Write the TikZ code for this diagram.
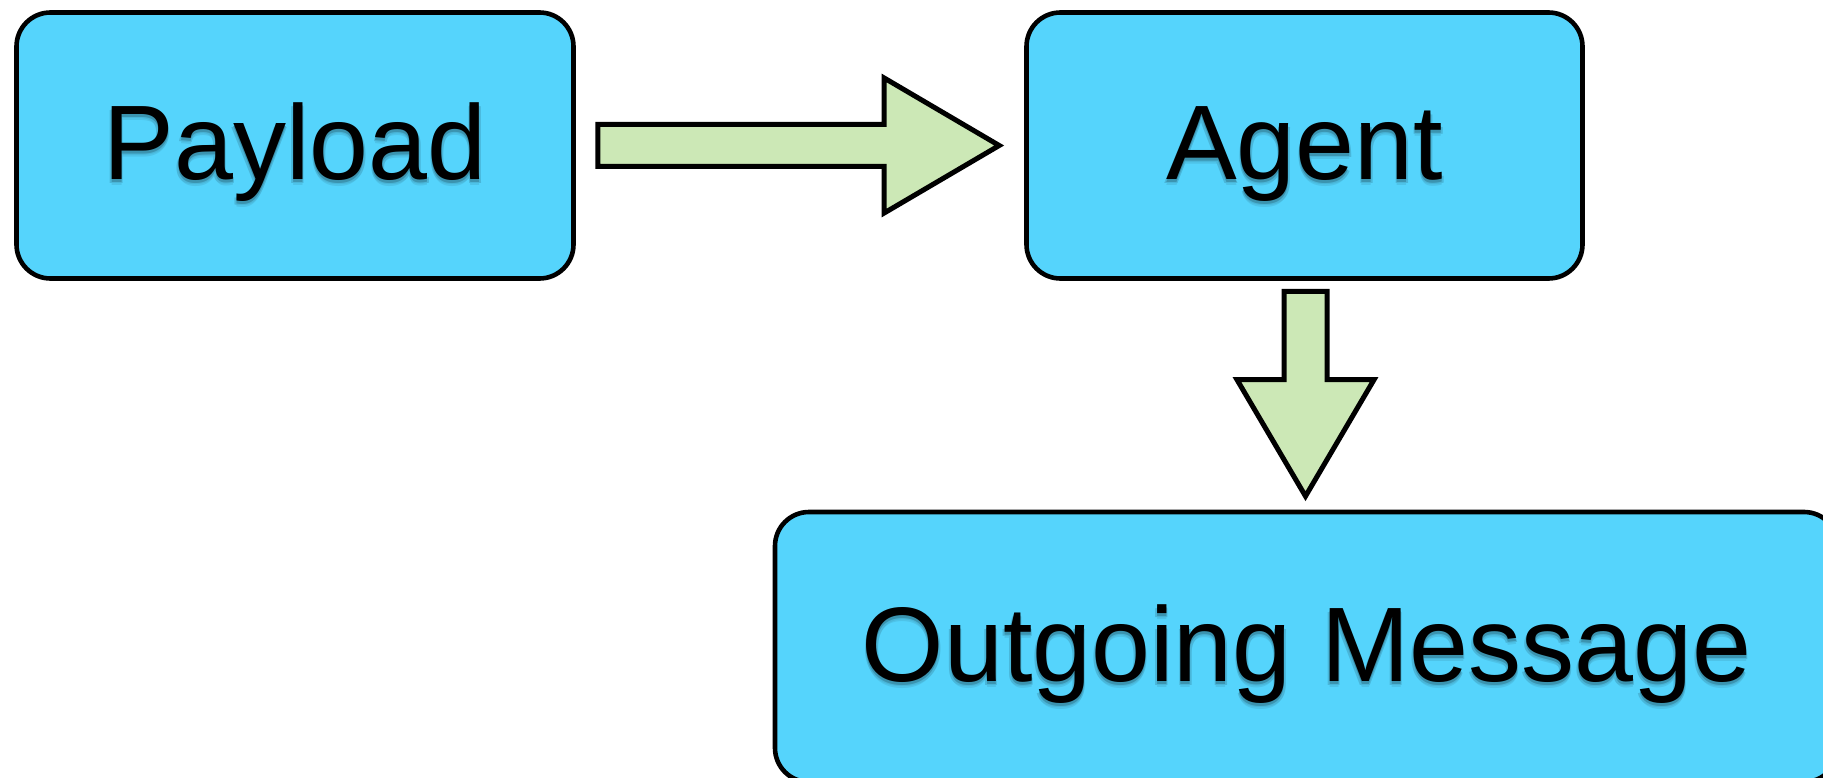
\documentclass[tikz,border=0pt]{standalone}
\usepackage{fontspec}
\setmainfont{Liberation Sans}
\usetikzlibrary{calc}
\definecolor{boxblue}{HTML}{55D4FC}
\definecolor{arrowgreen}{HTML}{CCE8B6}
% one layer of the drop shadow: #1 right shift, #2 drop, #3 tint, #4 text
\newcommand{\shadowlayer}[4]{%
  \rlap{\raisebox{-#2pt}{\hspace{#1pt}\textcolor{black!#3!boxblue}{#4}}}}
% text with a soft drop shadow underneath
\newcommand{\shadowed}[1]{%
  \leavevmode
  \shadowlayer{0}{5.5}{8}{#1}%
  \shadowlayer{-1.5}{4}{14}{#1}%
  \shadowlayer{1.5}{4}{14}{#1}%
  \shadowlayer{0}{2.5}{30}{#1}%
  #1}
\tikzset{
  stagebox/.style={draw=black, line width=4.6pt, fill=boxblue, rounded corners=34pt,
    inner sep=0pt, text height=76pt, text depth=7pt,
    font=\fontsize{106}{120}\selectfont},
  blockarrow/.style={draw=black, line width=5pt, fill=arrowgreen, line join=miter}
}
\begin{document}
\begin{tikzpicture}[x=1pt, y=-1pt]
  \useasboundingbox (0,0) rectangle (1823,778);

  % stages
  \node[stagebox, minimum width=557pt, minimum height=266pt] (payload) at (295,145.5) {\shadowed{Payload}};
  \node[stagebox, minimum width=556pt, minimum height=266pt] (agent) at (1304.5,145.5) {\shadowed{Agent}};
  \node[stagebox, minimum width=1063pt, minimum height=270pt] (outgoing) at (1306.5,647) {\shadowed{Outgoing Message}};

  % block arrow: Payload -> Agent
  \coordinate (r0) at ($(payload.east)+(22,0)$);
  \coordinate (r1) at ($(agent.west)+(-25,0)$);
  \draw[blockarrow] ($(r0)+(0,-21)$) -- ($(r1)+(-115,-21)$) -- ($(r1)+(-115,-67.5)$)
    -- (r1) -- ($(r1)+(-115,67.5)$) -- ($(r1)+(-115,21)$) -- ($(r0)+(0,21)$) -- cycle;

  % block arrow: Agent -> Outgoing Message
  \coordinate (d0) at ($(agent.south)+(1,10.5)$);
  \coordinate (d1) at ($(outgoing.north)+(-1,-13.5)$);
  \draw[blockarrow] ($(d0)+(-21.5,0)$) -- ($(d1)+(-21.5,-116.5)$) -- ($(d1)+(-68.5,-116.5)$)
    -- (d1) -- ($(d1)+(68.5,-116.5)$) -- ($(d1)+(21.5,-116.5)$) -- ($(d0)+(21.5,0)$) -- cycle;
\end{tikzpicture}
\end{document}
